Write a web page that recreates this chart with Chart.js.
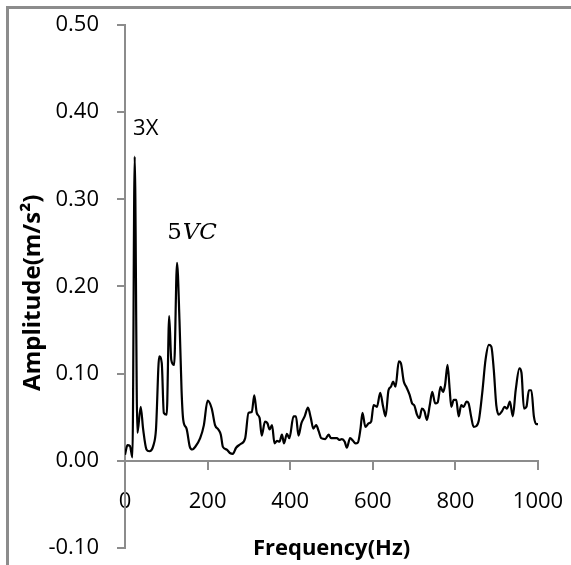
<!DOCTYPE html>
<html>
<head>
<meta charset="utf-8">
<script src="https://cdn.jsdelivr.net/npm/chart.js@4"></script>
<style>
  body { margin: 0; background: #fff; }
  #wrap { position: relative; width: 571px; height: 565px; overflow: hidden; }
  #frame { position: absolute; left: 6px; top: 6px; width: 700px; height: 700px;
    border-left: 3px solid #8c8c8c; border-top: 3px solid #8c8c8c; }
  canvas { position: absolute; left: 0; top: 0; }
</style>
</head>
<body>
<div id="wrap">
  <div id="frame"></div>
  <canvas id="chart" width="571" height="565"></canvas>
</div>
<script>
// spectrum
const freqHz = [0, 6, 12, 18, 23.5, 30, 38, 44, 52, 59, 69, 75, 83, 89, 94, 101, 107, 112, 119, 126,
  132, 137, 141, 149, 157, 163, 170, 182, 191, 200, 210, 218, 226, 232, 237, 246, 254, 261, 269, 279,
  291, 299, 307, 313, 319, 326, 331, 339, 345, 350, 356, 362, 368, 374, 380, 385, 392, 398, 408, 414,
  420, 427, 435, 443, 450, 456, 463, 469, 475, 485, 493, 499, 505, 513, 519, 525, 532, 537, 545, 552,
  558, 564, 570, 575, 582, 590, 596, 602, 610, 618, 625, 631, 638, 644, 649, 655, 663, 668, 675, 681,
  689, 695, 701, 707, 713, 719, 725, 731, 738, 744, 751, 757, 764, 770, 775, 781, 786, 790, 796, 802,
  808, 814, 820, 827, 832, 838, 844, 851, 857, 865, 873, 881, 887, 893, 899, 905, 913, 919, 925, 932,
  939, 946, 955, 960, 966, 972, 978, 984, 990, 996, 1000]
const amplitude = [0.007, 0.018, 0.017, 0.004, 0.349, 0.032, 0.062, 0.036, 0.013, 0.011, 0.018, 0.036, 0.120, 0.112, 0.055, 0.053, 0.166, 0.116, 0.110, 0.227,
  0.160, 0.080, 0.047, 0.037, 0.016, 0.013, 0.016, 0.026, 0.041, 0.069, 0.060, 0.041, 0.036, 0.030, 0.016, 0.013, 0.009, 0.008, 0.015, 0.019,
  0.026, 0.055, 0.056, 0.075, 0.055, 0.049, 0.029, 0.045, 0.043, 0.036, 0.041, 0.020, 0.023, 0.022, 0.030, 0.020, 0.031, 0.026, 0.051, 0.051,
  0.029, 0.043, 0.051, 0.061, 0.049, 0.037, 0.041, 0.034, 0.026, 0.025, 0.030, 0.026, 0.026, 0.026, 0.024, 0.025, 0.022, 0.015, 0.026, 0.023,
  0.020, 0.021, 0.036, 0.055, 0.039, 0.043, 0.045, 0.064, 0.062, 0.078, 0.062, 0.051, 0.081, 0.085, 0.091, 0.085, 0.114, 0.112, 0.091, 0.085,
  0.076, 0.066, 0.063, 0.053, 0.049, 0.060, 0.057, 0.047, 0.064, 0.079, 0.066, 0.067, 0.085, 0.079, 0.087, 0.110, 0.083, 0.062, 0.070, 0.070,
  0.051, 0.064, 0.062, 0.068, 0.066, 0.051, 0.039, 0.040, 0.047, 0.078, 0.116, 0.133, 0.131, 0.104, 0.064, 0.053, 0.057, 0.062, 0.060, 0.068,
  0.051, 0.081, 0.106, 0.101, 0.060, 0.062, 0.081, 0.081, 0.051, 0.042, 0.042]

const xTicks = [0, 200, 400, 600, 800, 1000]
const yTicks = [-0.1, 0, 0.1, 0.2, 0.3, 0.4, 0.5]

// peak labels, placed in data units
const noteText = ['3X', '5VC']
const noteFreq = [19.5, 102]
const noteAmp = [0.381, 0.261]

const axisGrey = '#8c8c8c'
const tickFont = { family: 'Open Sans', size: 22 }

const points = freqHz.map((f, i) => ({ x: f, y: amplitude[i] }))

// let the layout padding alone decide where the plot area sits
function noLabelPadding(scale) {
  scale.paddingTop = 0
  scale.paddingBottom = 0
  scale.paddingLeft = 0
  scale.paddingRight = 0
}

const peakNotes = {
  id: 'peakNotes',
  afterDatasetsDraw(chart) {
    const ctx = chart.ctx
    const xs = chart.scales.x
    const ys = chart.scales.y
    ctx.save()
    ctx.fillStyle = '#000'
    ctx.textBaseline = 'middle'
    ctx.textAlign = 'left'
    for (let i = 0; i < noteText.length; i++) {
      let px = xs.getPixelForValue(noteFreq[i])
      const py = ys.getPixelForValue(noteAmp[i])
      if (noteText[i] === '5VC') {
        // math style: upright digit, italic letters
        ctx.font = '23px "DejaVu Serif"'
        ctx.fillText('5', px, py)
        px += ctx.measureText('5').width + 1
        ctx.font = 'italic 23px "DejaVu Serif"'
        ctx.fillText('VC', px, py)
      } else {
        ctx.font = '22px "Open Sans"'
        ctx.fillText(noteText[i], px, py)
      }
    }
    ctx.restore()
  }
}

const chart = new Chart(document.getElementById('chart').getContext('2d'), {
  type: 'line',
  data: {
    datasets: [
      {
        data: points,
        borderColor: '#000',
        borderWidth: 2.2,
        pointRadius: 0,
        cubicInterpolationMode: 'monotone',
        fill: false
      }
    ]
  },
  options: {
    responsive: false,
    animation: false,
    layout: { padding: { left: 10, top: 25, right: 33, bottom: 17 } },
    plugins: { legend: { display: false }, tooltip: { enabled: false } },
    scales: {
      x: {
        type: 'linear',
        position: { y: 0 },
        min: 0,
        max: 1000,
        afterBuildTicks: (scale) => { scale.ticks = xTicks.map((v) => ({ value: v })) },
        afterFit: noLabelPadding,
        ticks: { color: '#000', font: tickFont, padding: 20, maxRotation: 0, callback: (v) => String(v) },
        grid: { drawOnChartArea: false, drawTicks: true, tickLength: 8, color: axisGrey, lineWidth: 2 },
        border: { display: true, color: axisGrey, width: 2 },
        title: {
          display: true,
          text: 'Frequency(Hz)',
          color: '#000',
          font: { family: 'Open Sans', size: 22, weight: 'bold' },
          padding: { top: 0, bottom: 0 }
        }
      },
      y: {
        min: -0.1,
        max: 0.5,
        afterBuildTicks: (scale) => { scale.ticks = yTicks.map((v) => ({ value: v })) },
        afterFit: (scale) => {
          scale.width = 115
          noLabelPadding(scale)
        },
        ticks: { color: '#000', font: tickFont, padding: 18, callback: (v) => v.toFixed(2) },
        grid: { drawOnChartArea: false, drawTicks: true, tickLength: 8, color: axisGrey, lineWidth: 2 },
        border: { display: true, color: axisGrey, width: 2 },
        title: {
          display: true,
          text: 'Amplitude(m/s²)  ',
          color: '#000',
          font: { family: 'Open Sans', size: 24, weight: 'bold' },
          padding: { top: 9, bottom: 0 }
        }
      }
    }
  },
  plugins: [peakNotes]
})
</script>
</body>
</html>
